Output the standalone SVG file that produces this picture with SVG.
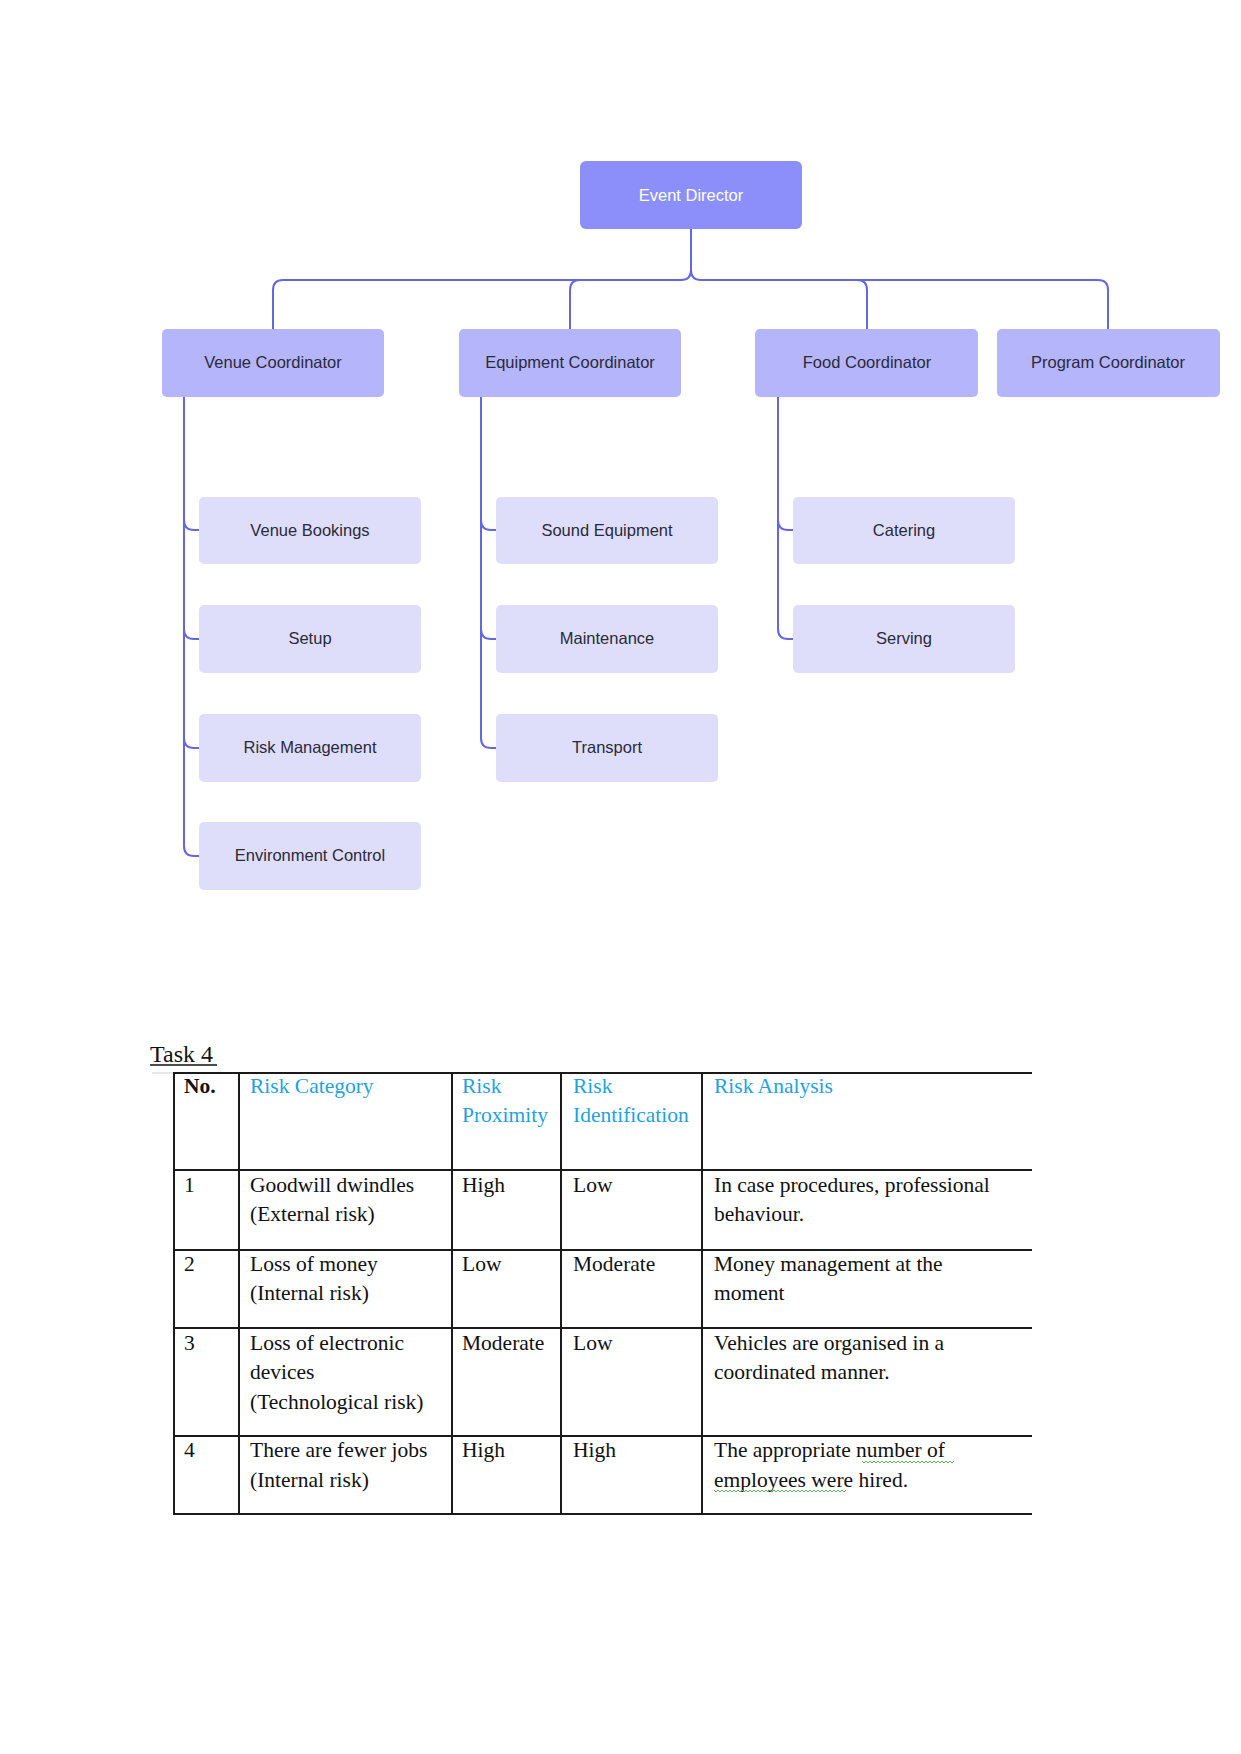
<svg xmlns="http://www.w3.org/2000/svg" width="1241" height="1754" viewBox="0 0 1241 1754">
<style>
.lvl0{fill:#8c8ffa}
.lvl1{fill:#b4b5fa}
.lvl2{fill:#dedefb}
.t0{font-family:"Liberation Sans",Arial,sans-serif;font-size:16.5px;fill:#ffffff;text-anchor:middle;dominant-baseline:central}
.t1{font-family:"Liberation Sans",Arial,sans-serif;font-size:16.5px;fill:#2a2a3a;text-anchor:middle;dominant-baseline:central}
.conn{fill:none;stroke:#6467e0;stroke-width:2}
.grid{stroke:#1a1a1a;stroke-width:2;fill:none}
.cell{font-family:"Liberation Serif","Times New Roman",serif;font-size:21.5px;fill:#111}
.head{font-family:"Liberation Serif","Times New Roman",serif;font-size:21.5px;fill:#1fa2e0}
.wavy{fill:none;stroke:#5cb85c;stroke-width:1}
</style>
<rect width="1241" height="1754" fill="#ffffff"/>

<g id="connectors">
<path class="conn" d="M691,229 V270 Q691,280 681,280 H283 Q273,280 273,290 V329"/>
<path class="conn" d="M691,270 Q691,280 701,280 H1098 Q1108,280 1108,290 V329"/>
<path class="conn" d="M681,280 H580 Q570,280 570,290 V329"/>
<path class="conn" d="M701,280 H857 Q867,280 867,290 V329"/>
<path class="conn" d="M184,397 V846 Q184,856 194,856 H199"/>
<path class="conn" d="M184,520 Q184,530 194,530 H199"/>
<path class="conn" d="M184,629 Q184,639 194,639 H199"/>
<path class="conn" d="M184,738 Q184,748 194,748 H199"/>
<path class="conn" d="M481,397 V738 Q481,748 491,748 H496"/>
<path class="conn" d="M481,520 Q481,530 491,530 H496"/>
<path class="conn" d="M481,629 Q481,639 491,639 H496"/>
<path class="conn" d="M778,397 V629 Q778,639 788,639 H793"/>
<path class="conn" d="M778,520 Q778,530 788,530 H793"/>
</g>

<g id="event-director"><rect class="lvl0" x="580" y="161" width="222" height="68" rx="6"/><text class="t0" x="691" y="195">Event Director</text></g>

<g id="venue-coordinator"><rect class="lvl1" x="162" y="329" width="222" height="68" rx="5"/><text class="t1" x="273" y="362">Venue Coordinator</text></g>
<g id="equipment-coordinator"><rect class="lvl1" x="459" y="329" width="222" height="68" rx="5"/><text class="t1" x="570" y="362">Equipment Coordinator</text></g>
<g id="food-coordinator"><rect class="lvl1" x="755" y="329" width="223" height="68" rx="5"/><text class="t1" x="867" y="362">Food Coordinator</text></g>
<g id="program-coordinator"><rect class="lvl1" x="997" y="329" width="223" height="68" rx="5"/><text class="t1" x="1108" y="362">Program Coordinator</text></g>

<g id="venue-bookings"><rect class="lvl2" x="199" y="497" width="222" height="67" rx="5"/><text class="t1" x="310" y="530">Venue Bookings</text></g>
<g id="setup"><rect class="lvl2" x="199" y="605" width="222" height="68" rx="5"/><text class="t1" x="310" y="638">Setup</text></g>
<g id="risk-management"><rect class="lvl2" x="199" y="714" width="222" height="68" rx="5"/><text class="t1" x="310" y="747">Risk Management</text></g>
<g id="environment-control"><rect class="lvl2" x="199" y="822" width="222" height="68" rx="5"/><text class="t1" x="310" y="855">Environment Control</text></g>

<g id="sound-equipment"><rect class="lvl2" x="496" y="497" width="222" height="67" rx="5"/><text class="t1" x="607" y="530">Sound Equipment</text></g>
<g id="maintenance"><rect class="lvl2" x="496" y="605" width="222" height="68" rx="5"/><text class="t1" x="607" y="638">Maintenance</text></g>
<g id="transport"><rect class="lvl2" x="496" y="714" width="222" height="68" rx="5"/><text class="t1" x="607" y="747">Transport</text></g>

<g id="catering"><rect class="lvl2" x="793" y="497" width="222" height="67" rx="5"/><text class="t1" x="904" y="530">Catering</text></g>
<g id="serving"><rect class="lvl2" x="793" y="605" width="222" height="68" rx="5"/><text class="t1" x="904" y="638">Serving</text></g>

<g id="task4">
<text x="150" y="1062" style="font-family:'Liberation Serif','Times New Roman',serif;font-size:24px;fill:#111">Task 4</text>
<line x1="150" y1="1065" x2="217" y2="1065" stroke="#111" stroke-width="1.5"/>
</g>

<g id="table">
<line x1="152" y1="1073" x2="174" y2="1073" stroke="#d0d0d0" stroke-width="1"/>
<path class="grid" d="M174,1073 H1032 M174,1170 H1032 M174,1250 H1032 M174,1328 H1032 M174,1436 H1032 M173,1514 H1032"/>
<path class="grid" d="M174,1072 V1515 M239,1072 V1515 M452,1072 V1515 M561,1072 V1515 M702,1072 V1515"/>

<text class="cell" x="184" y="1093" font-weight="bold">No.</text>
<text class="head" x="250" y="1093">Risk Category</text>
<text class="head" x="462" y="1093">Risk</text>
<text class="head" x="462" y="1122">Proximity</text>
<text class="head" x="573" y="1093">Risk</text>
<text class="head" x="573" y="1122">Identification</text>
<text class="head" x="714" y="1093">Risk Analysis</text>

<text class="cell" x="184" y="1192">1</text>
<text class="cell" x="250" y="1192">Goodwill dwindles</text>
<text class="cell" x="250" y="1221">(External risk)</text>
<text class="cell" x="462" y="1192">High</text>
<text class="cell" x="573" y="1192">Low</text>
<text class="cell" x="714" y="1192">In case procedures, professional</text>
<text class="cell" x="714" y="1221">behaviour.</text>

<text class="cell" x="184" y="1271">2</text>
<text class="cell" x="250" y="1271">Loss of money</text>
<text class="cell" x="250" y="1300">(Internal risk)</text>
<text class="cell" x="462" y="1271">Low</text>
<text class="cell" x="573" y="1271">Moderate</text>
<text class="cell" x="714" y="1271">Money management at the</text>
<text class="cell" x="714" y="1300">moment</text>

<text class="cell" x="184" y="1350">3</text>
<text class="cell" x="250" y="1350">Loss of electronic</text>
<text class="cell" x="250" y="1379">devices</text>
<text class="cell" x="250" y="1409">(Technological risk)</text>
<text class="cell" x="462" y="1350">Moderate</text>
<text class="cell" x="573" y="1350">Low</text>
<text class="cell" x="714" y="1350">Vehicles are organised in a</text>
<text class="cell" x="714" y="1379">coordinated manner.</text>

<text class="cell" x="184" y="1457">4</text>
<text class="cell" x="250" y="1457">There are fewer jobs</text>
<text class="cell" x="250" y="1487">(Internal risk)</text>
<text class="cell" x="462" y="1457">High</text>
<text class="cell" x="573" y="1457">High</text>
<text class="cell" x="714" y="1457">The appropriate number of</text>
<text class="cell" x="714" y="1487">employees were hired.</text>
<path class="wavy" d="M862,1461 l2,2 l2,-2 l2,2 l2,-2 l2,2 l2,-2 l2,2 l2,-2 l2,2 l2,-2 l2,2 l2,-2 l2,2 l2,-2 l2,2 l2,-2 l2,2 l2,-2 l2,2 l2,-2 l2,2 l2,-2 l2,2 l2,-2 l2,2 l2,-2 l2,2 l2,-2 l2,2 l2,-2 l2,2 l2,-2 l2,2 l2,-2 l2,2 l2,-2 l2,2 l2,-2 l2,2 l2,-2 l2,2 l2,-2 l2,2 l2,-2 l2,2 l2,-2"/>
<path class="wavy" d="M714,1490 l2,2 l2,-2 l2,2 l2,-2 l2,2 l2,-2 l2,2 l2,-2 l2,2 l2,-2 l2,2 l2,-2 l2,2 l2,-2 l2,2 l2,-2 l2,2 l2,-2 l2,2 l2,-2 l2,2 l2,-2 l2,2 l2,-2 l2,2 l2,-2 l2,2 l2,-2 l2,2 l2,-2 l2,2 l2,-2 l2,2 l2,-2 l2,2 l2,-2 l2,2 l2,-2 l2,2 l2,-2 l2,2 l2,-2 l2,2 l2,-2 l2,2 l2,-2 l2,2 l2,-2 l2,2 l2,-2 l2,2 l2,-2 l2,2 l2,-2 l2,2 l2,-2 l2,2 l2,-2 l2,2 l2,-2 l2,2 l2,-2 l2,2 l2,-2 l2,2 l2,-2"/>
</g>
</svg>
